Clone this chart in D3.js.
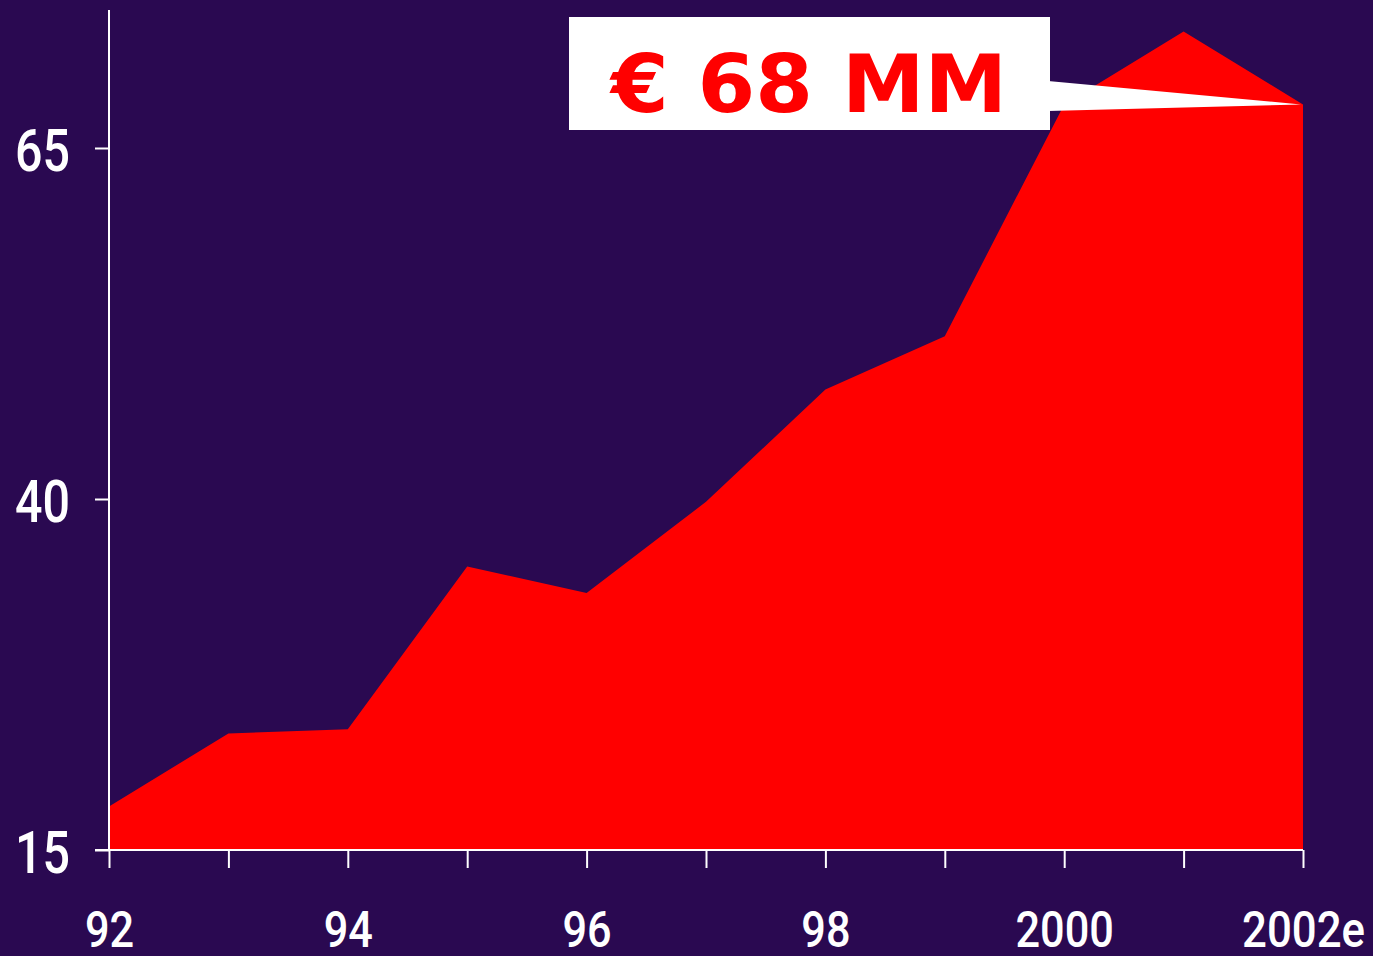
<!DOCTYPE html>
<html>
<head>
<meta charset="utf-8">
<script src="https://cdn.jsdelivr.net/npm/d3@7"></script>
<style>
  html, body { margin: 0; padding: 0; background: #2a0951; }
  svg { display: block; }
</style>
</head>
<body>
<svg id="chart" width="1373" height="956"></svg>
<script>
// data
var years = [1992, 1993, 1994, 1995, 1996, 1997, 1998, 1999, 2000, 2001, 2002];
var values = [18.1, 23.3, 23.6, 35.2, 33.3, 39.8, 47.8, 51.6, 68.1, 73.3, 68.1];
var yTicks = [15, 40, 65];
var xLabels = { 1992: "92", 1994: "94", 1996: "96", 1998: "98", 2000: "2000", 2002: "2002e" };
var calloutText = "\u20AC 68 MM";

var svg = d3.select("#chart");
var W = 1373, H = 956;

svg.append("rect").attr("width", W).attr("height", H).attr("fill", "#2a0951");

var x = d3.scaleLinear().domain([1992, 2002]).range([109, 1303]);
var y = d3.scaleLinear().domain([15, 65]).range([850, 148]);

// area
var area = d3.area()
    .x(function (d, i) { return x(years[i]); })
    .y0(y(15))
    .y1(function (d) { return y(d); });

svg.append("path")
    .datum(values)
    .attr("d", area)
    .attr("fill", "#ff0000");

var tickFont = "Roboto, 'DejaVu Sans Condensed', sans-serif";

// y axis
var yAxis = d3.axisLeft(y)
    .tickValues(yTicks)
    .tickSize(14)
    .tickPadding(25)
    .tickFormat(d3.format("d"));

var gy = svg.append("g")
    .attr("transform", "translate(" + x(1992) + ",0)")
    .call(yAxis);
gy.select(".domain").remove();
gy.append("line")
    .attr("x1", 0).attr("x2", 0)
    .attr("y1", 10).attr("y2", y(15))
    .attr("stroke", "white").attr("stroke-width", 2);
gy.selectAll(".tick line").attr("stroke", "white").attr("stroke-width", 2);
gy.selectAll(".tick text")
    .attr("fill", "white")
    .attr("dy", "0.38em")
    .attr("textLength", function (d) { return String(d).length * 27.5; })
    .attr("lengthAdjust", "spacingAndGlyphs")
    .style("font-family", tickFont)
    .style("font-size", "59px")
    .style("font-weight", "500");

// x axis
var xAxis = d3.axisBottom(x)
    .tickValues(years)
    .tickSize(18)
    .tickPadding(43)
    .tickFormat(function (d) { return xLabels[d] || ""; });

var gx = svg.append("g")
    .attr("transform", "translate(0," + y(15) + ")")
    .call(xAxis);
gx.select(".domain").remove();
gx.append("line")
    .attr("x1", x(1992) - 14).attr("x2", x(2002))
    .attr("y1", 0).attr("y2", 0)
    .attr("stroke", "white").attr("stroke-width", 2);
gx.selectAll(".tick line").attr("stroke", "white").attr("stroke-width", 2);
gx.selectAll(".tick text")
    .filter(function (d) { return xLabels[d]; })
    .attr("fill", "white")
    .attr("textLength", function (d) { return xLabels[d].length * 24.6; })
    .attr("lengthAdjust", "spacingAndGlyphs")
    .style("font-family", tickFont)
    .style("font-size", "50px")
    .style("font-weight", "500");

// callout box with pointer to the 2002 value
var boxX = 569, boxY = 17, boxW = 481, boxH = 113;
var tipX = x(2002) - 2, tipY = y(values[10]);

svg.append("path")
    .attr("d", "M" + (boxX + boxW - 2) + "," + 81 + " L" + tipX + "," + tipY + " L" + (boxX + boxW - 2) + "," + 111 + " Z")
    .attr("fill", "white");

svg.append("rect")
    .attr("x", boxX).attr("y", boxY)
    .attr("width", boxW).attr("height", boxH)
    .attr("fill", "white");

svg.append("text")
    .attr("x", 611).attr("y", 112)
    .attr("fill", "#ff0000")
    .attr("textLength", 396)
    .attr("lengthAdjust", "spacingAndGlyphs")
    .style("font-family", "'DejaVu Sans', Verdana, sans-serif")
    .style("font-size", "81px")
    .style("font-weight", "bold")
    .text(calloutText);
</script>
</body>
</html>
